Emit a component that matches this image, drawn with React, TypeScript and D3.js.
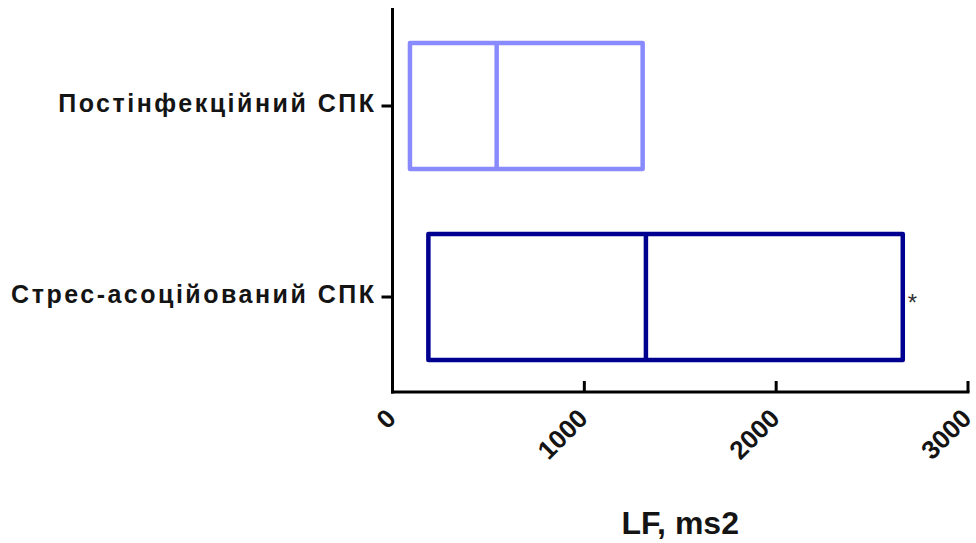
import React from "react";
import * as d3 from "d3";

// LF power (ms²) per IBS group: box from Q1 to Q3 with median line
const categories = ["Постінфекційний СПК", "Стрес-асоційований СПК"];
const q1Values = [91, 187];
const medianValues = [543, 1321];
const q3Values = [1304, 2660];
const significance = ["", "*"];
const boxColors = ["#8a8aff", "#000090"];
const xTicks = [0, 1000, 2000, 3000];
const xTitle = "LF, ms2";

const W = 976;
const H = 543;
const plot = { left: 392.5, right: 968, top: 8, bottom: 392 };

export default function App() {
  const x = d3.scaleLinear().domain([0, 3000]).range([plot.left, plot.right]);
  const y = d3
    .scalePoint<string>()
    .domain(categories)
    .range([plot.top + 2.5, plot.bottom + 0.5])
    .padding(0.5);
  const half = y.step() * 0.33;
  const font = "'Liberation Sans', Arial, sans-serif";

  return (
    <svg
      width={W}
      height={H}
      style={{ position: "absolute", left: 0, top: 0, background: "#fff" }}
      fontFamily={font}
    >
      {/* boxes */}
      {categories.map((c, i) => {
        const cy = y(c)!;
        return (
          <g key={c} stroke={boxColors[i]} strokeWidth={4.5} fill="none" strokeLinejoin="round">
            <rect x={x(q1Values[i])} y={cy - half} width={x(q3Values[i]) - x(q1Values[i])} height={half * 2} />
            <line x1={x(medianValues[i])} x2={x(medianValues[i])} y1={cy - half} y2={cy + half} />
            {significance[i] && (
              <text
                x={x(q3Values[i]) + 5}
                y={cy + 14}
                stroke="none"
                fill="#333"
                fontSize={24}
              >
                {significance[i]}
              </text>
            )}
          </g>
        );
      })}

      {/* y axis */}
      <g stroke="#000" strokeWidth={3} fill="none">
        <line x1={plot.left} x2={plot.left} y1={plot.top} y2={plot.bottom + 1.5} />
        {categories.map((c) => (
          <line key={c} x1={plot.left - 11} x2={plot.left} y1={y(c)!} y2={y(c)!} />
        ))}
      </g>
      {categories.map((c) => (
        <text
          key={c}
          x={plot.left - 16}
          y={y(c)! + 6}
          textAnchor="end"
          fontSize={25}
          fontWeight="bold"
          letterSpacing={2.5}
          fill="#141414"
        >
          {c}
        </text>
      ))}

      {/* x axis */}
      <g stroke="#000" strokeWidth={3} fill="none">
        <line x1={plot.left - 1.5} x2={plot.right + 1.5} y1={plot.bottom} y2={plot.bottom} />
        {xTicks.map((t) => (
          <line key={t} x1={x(t)} x2={x(t)} y1={plot.bottom - 11} y2={plot.bottom} />
        ))}
      </g>
      {xTicks.map((t) => (
        <text
          key={t}
          transform={`translate(${x(t) + 5},${plot.bottom + 28}) rotate(-45)`}
          textAnchor="end"
          fontSize={26}
          fontWeight="bold"
          fill="#141414"
        >
          {t}
        </text>
      ))}
      <text
        x={(x(0) + x(3000)) / 2}
        y={534}
        textAnchor="middle"
        fontSize={32}
        fontWeight="bold"
        fill="#141414"
      >
        {xTitle}
      </text>
    </svg>
  );
}
